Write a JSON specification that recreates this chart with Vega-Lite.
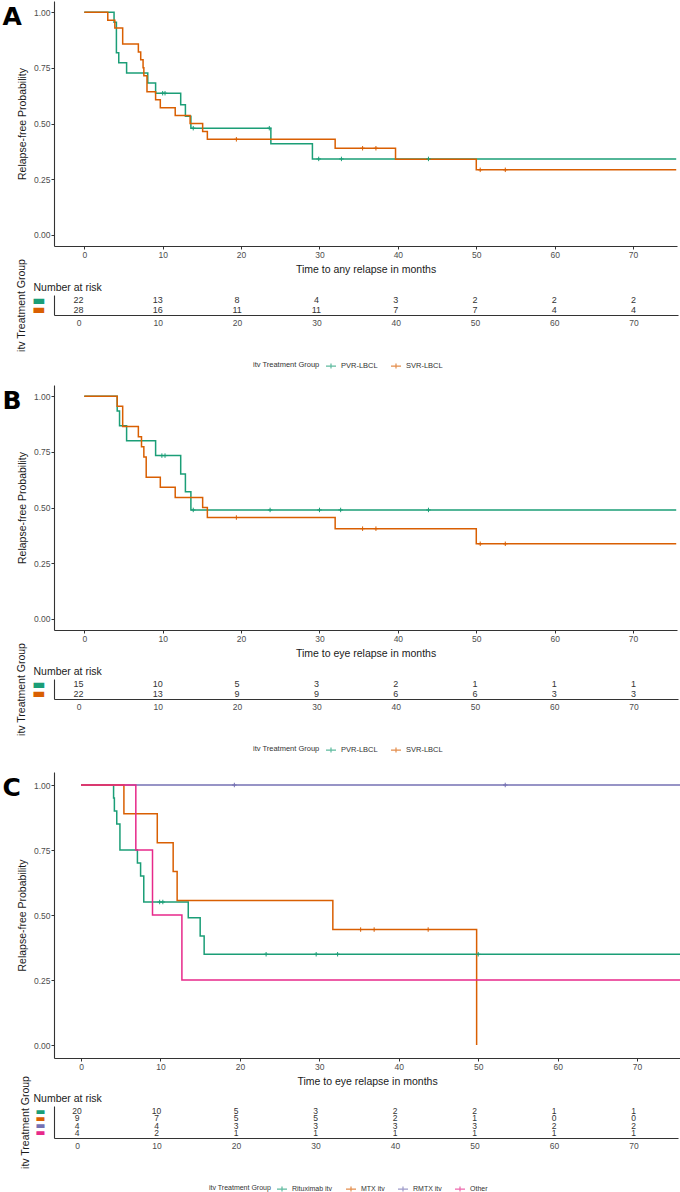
{
"$schema": "https://vega.github.io/schema/vega-lite/v6.json",
"background": "white",
"padding": {"left": 2, "top": 1, "right": 0, "bottom": 0},
"config": {
  "view": {"stroke": null},
  "font": "Liberation Sans",
  "axis": {"grid": false, "domainColor": "#333333", "domainWidth": 1.1, "tickColor": "#333333", "tickSize": 3, "labelColor": "#4d4d4d", "labelFontSize": 8.5, "labelFont": "Liberation Sans", "titleFont": "Liberation Sans", "titleFontSize": 10.5, "titleFontWeight": "normal", "titleColor": "#1a1a1a", "labelPadding": 1},
  "legend": {"layout": {"bottom": {"anchor": "middle"}}},
  "title": {"font": "Liberation Sans"}
},
"datasets": {
  "empty": [],
  "kmA": [
    {"g":"PVR-LBCL","t":0,"s":1},{"g":"PVR-LBCL","t":3.8,"s":0.955},{"g":"PVR-LBCL","t":4.1,"s":0.818},{"g":"PVR-LBCL","t":4.4,"s":0.773},{"g":"PVR-LBCL","t":5.4,"s":0.727},{"g":"PVR-LBCL","t":8.1,"s":0.682},{"g":"PVR-LBCL","t":9.1,"s":0.636},{"g":"PVR-LBCL","t":12.3,"s":0.584},{"g":"PVR-LBCL","t":12.9,"s":0.532},{"g":"PVR-LBCL","t":13.6,"s":0.479},{"g":"PVR-LBCL","t":23.8,"s":0.409},{"g":"PVR-LBCL","t":29.1,"s":0.341},{"g":"PVR-LBCL","t":75.5,"s":0.341},
    {"g":"SVR-LBCL","t":0,"s":1},{"g":"SVR-LBCL","t":3.0,"s":0.964},{"g":"SVR-LBCL","t":3.9,"s":0.929},{"g":"SVR-LBCL","t":4.9,"s":0.857},{"g":"SVR-LBCL","t":6.9,"s":0.821},{"g":"SVR-LBCL","t":7.2,"s":0.786},{"g":"SVR-LBCL","t":7.5,"s":0.75},{"g":"SVR-LBCL","t":7.6,"s":0.714},{"g":"SVR-LBCL","t":8.0,"s":0.643},{"g":"SVR-LBCL","t":9.1,"s":0.607},{"g":"SVR-LBCL","t":9.7,"s":0.571},{"g":"SVR-LBCL","t":11.6,"s":0.536},{"g":"SVR-LBCL","t":13.5,"s":0.5},{"g":"SVR-LBCL","t":15.1,"s":0.464},{"g":"SVR-LBCL","t":15.7,"s":0.429},{"g":"SVR-LBCL","t":32.0,"s":0.389},{"g":"SVR-LBCL","t":39.7,"s":0.34},{"g":"SVR-LBCL","t":50.0,"s":0.292},{"g":"SVR-LBCL","t":75.5,"s":0.292}
  ],
  "censA": [
    {"g":"PVR-LBCL","t":10.0,"s":0.636},{"g":"PVR-LBCL","t":10.3,"s":0.636},{"g":"PVR-LBCL","t":13.9,"s":0.479},{"g":"PVR-LBCL","t":23.6,"s":0.479},{"g":"PVR-LBCL","t":29.9,"s":0.341},{"g":"PVR-LBCL","t":32.8,"s":0.341},{"g":"PVR-LBCL","t":43.9,"s":0.341},
    {"g":"SVR-LBCL","t":19.4,"s":0.429},{"g":"SVR-LBCL","t":35.5,"s":0.389},{"g":"SVR-LBCL","t":37.2,"s":0.389},{"g":"SVR-LBCL","t":50.5,"s":0.292},{"g":"SVR-LBCL","t":53.7,"s":0.292}
  ],
  "riskA": [
    {"g":"PVR-LBCL","t":0,"n":22},{"g":"PVR-LBCL","t":10,"n":13},{"g":"PVR-LBCL","t":20,"n":8},{"g":"PVR-LBCL","t":30,"n":4},{"g":"PVR-LBCL","t":40,"n":3},{"g":"PVR-LBCL","t":50,"n":2},{"g":"PVR-LBCL","t":60,"n":2},{"g":"PVR-LBCL","t":70,"n":2},
    {"g":"SVR-LBCL","t":0,"n":28},{"g":"SVR-LBCL","t":10,"n":16},{"g":"SVR-LBCL","t":20,"n":11},{"g":"SVR-LBCL","t":30,"n":11},{"g":"SVR-LBCL","t":40,"n":7},{"g":"SVR-LBCL","t":50,"n":7},{"g":"SVR-LBCL","t":60,"n":4},{"g":"SVR-LBCL","t":70,"n":4}
  ],
  "kmB": [
    {"g":"PVR-LBCL","t":0,"s":1},{"g":"PVR-LBCL","t":4.2,"s":0.933},{"g":"PVR-LBCL","t":4.5,"s":0.867},{"g":"PVR-LBCL","t":5.4,"s":0.8},{"g":"PVR-LBCL","t":9.1,"s":0.733},{"g":"PVR-LBCL","t":12.3,"s":0.65},{"g":"PVR-LBCL","t":12.9,"s":0.571},{"g":"PVR-LBCL","t":13.6,"s":0.489},{"g":"PVR-LBCL","t":75.5,"s":0.489},
    {"g":"SVR-LBCL","t":0,"s":1},{"g":"SVR-LBCL","t":4.2,"s":0.955},{"g":"SVR-LBCL","t":4.9,"s":0.864},{"g":"SVR-LBCL","t":6.9,"s":0.818},{"g":"SVR-LBCL","t":7.3,"s":0.773},{"g":"SVR-LBCL","t":7.6,"s":0.727},{"g":"SVR-LBCL","t":7.9,"s":0.636},{"g":"SVR-LBCL","t":9.7,"s":0.591},{"g":"SVR-LBCL","t":11.6,"s":0.545},{"g":"SVR-LBCL","t":15.1,"s":0.5},{"g":"SVR-LBCL","t":15.7,"s":0.455},{"g":"SVR-LBCL","t":32.0,"s":0.405},{"g":"SVR-LBCL","t":50.0,"s":0.337},{"g":"SVR-LBCL","t":75.5,"s":0.337}
  ],
  "censB": [
    {"g":"PVR-LBCL","t":9.9,"s":0.733},{"g":"PVR-LBCL","t":10.3,"s":0.733},{"g":"PVR-LBCL","t":13.9,"s":0.489},{"g":"PVR-LBCL","t":23.7,"s":0.489},{"g":"PVR-LBCL","t":30.0,"s":0.489},{"g":"PVR-LBCL","t":32.7,"s":0.489},{"g":"PVR-LBCL","t":43.9,"s":0.489},
    {"g":"SVR-LBCL","t":19.4,"s":0.455},{"g":"SVR-LBCL","t":35.5,"s":0.405},{"g":"SVR-LBCL","t":37.2,"s":0.405},{"g":"SVR-LBCL","t":50.5,"s":0.337},{"g":"SVR-LBCL","t":53.7,"s":0.337}
  ],
  "riskB": [
    {"g":"PVR-LBCL","t":0,"n":15},{"g":"PVR-LBCL","t":10,"n":10},{"g":"PVR-LBCL","t":20,"n":5},{"g":"PVR-LBCL","t":30,"n":3},{"g":"PVR-LBCL","t":40,"n":2},{"g":"PVR-LBCL","t":50,"n":1},{"g":"PVR-LBCL","t":60,"n":1},{"g":"PVR-LBCL","t":70,"n":1},
    {"g":"SVR-LBCL","t":0,"n":22},{"g":"SVR-LBCL","t":10,"n":13},{"g":"SVR-LBCL","t":20,"n":9},{"g":"SVR-LBCL","t":30,"n":9},{"g":"SVR-LBCL","t":40,"n":6},{"g":"SVR-LBCL","t":50,"n":6},{"g":"SVR-LBCL","t":60,"n":3},{"g":"SVR-LBCL","t":70,"n":3}
  ],
  "kmC": [
    {"g":"RMTX itv","t":0,"s":1},{"g":"RMTX itv","t":75.5,"s":1},
    {"g":"Rituximab itv","t":0,"s":1},{"g":"Rituximab itv","t":4.1,"s":0.95},{"g":"Rituximab itv","t":4.2,"s":0.9},{"g":"Rituximab itv","t":4.5,"s":0.85},{"g":"Rituximab itv","t":4.9,"s":0.75},{"g":"Rituximab itv","t":7.1,"s":0.7},{"g":"Rituximab itv","t":7.5,"s":0.65},{"g":"Rituximab itv","t":7.9,"s":0.55},{"g":"Rituximab itv","t":13.5,"s":0.489},{"g":"Rituximab itv","t":15.0,"s":0.419},{"g":"Rituximab itv","t":15.5,"s":0.349},{"g":"Rituximab itv","t":75.5,"s":0.349},
    {"g":"MTX itv","t":0,"s":1},{"g":"MTX itv","t":5.4,"s":0.889},{"g":"MTX itv","t":9.6,"s":0.778},{"g":"MTX itv","t":11.6,"s":0.667},{"g":"MTX itv","t":12.1,"s":0.556},{"g":"MTX itv","t":31.7,"s":0.444},{"g":"MTX itv","t":49.8,"s":0.0},
    {"g":"Other","t":0,"s":1},{"g":"Other","t":6.9,"s":0.75},{"g":"Other","t":9.0,"s":0.5},{"g":"Other","t":12.7,"s":0.25},{"g":"Other","t":75.5,"s":0.25}
  ],
  "censC": [
    {"g":"Rituximab itv","t":9.9,"s":0.55},{"g":"Rituximab itv","t":10.3,"s":0.55},{"g":"Rituximab itv","t":23.3,"s":0.349},{"g":"Rituximab itv","t":29.6,"s":0.349},{"g":"Rituximab itv","t":32.3,"s":0.349},{"g":"Rituximab itv","t":50.0,"s":0.349},
    {"g":"MTX itv","t":35.2,"s":0.444},{"g":"MTX itv","t":36.9,"s":0.444},{"g":"MTX itv","t":43.7,"s":0.444},
    {"g":"RMTX itv","t":19.3,"s":1},{"g":"RMTX itv","t":53.4,"s":1}
  ],
  "riskC": [
    {"g":"Rituximab itv","t":0,"n":20},{"g":"Rituximab itv","t":10,"n":10},{"g":"Rituximab itv","t":20,"n":5},{"g":"Rituximab itv","t":30,"n":3},{"g":"Rituximab itv","t":40,"n":2},{"g":"Rituximab itv","t":50,"n":2},{"g":"Rituximab itv","t":60,"n":1},{"g":"Rituximab itv","t":70,"n":1},
    {"g":"MTX itv","t":0,"n":9},{"g":"MTX itv","t":10,"n":7},{"g":"MTX itv","t":20,"n":5},{"g":"MTX itv","t":30,"n":5},{"g":"MTX itv","t":40,"n":2},{"g":"MTX itv","t":50,"n":1},{"g":"MTX itv","t":60,"n":0},{"g":"MTX itv","t":70,"n":0},
    {"g":"RMTX itv","t":0,"n":4},{"g":"RMTX itv","t":10,"n":4},{"g":"RMTX itv","t":20,"n":3},{"g":"RMTX itv","t":30,"n":3},{"g":"RMTX itv","t":40,"n":3},{"g":"RMTX itv","t":50,"n":3},{"g":"RMTX itv","t":60,"n":2},{"g":"RMTX itv","t":70,"n":2},
    {"g":"Other","t":0,"n":4},{"g":"Other","t":10,"n":2},{"g":"Other","t":20,"n":1},{"g":"Other","t":30,"n":1},{"g":"Other","t":40,"n":1},{"g":"Other","t":50,"n":1},{"g":"Other","t":60,"n":1},{"g":"Other","t":70,"n":1}
  ]
},
"vconcat": [
   {
    "width": 623, "height": 245,
    "resolve": {"axis": {"x": "independent"}},
    "layer": [
     {"data": {"name": "kmA"}, "mark": {"type": "line", "interpolate": "step-after", "strokeWidth": 1.5, "clip": true},
      "encoding": {
       "x": {"field": "t", "type": "quantitative", "scale": {"domain": [-3.86, 75.6], "nice": false, "zero": false}, "axis": {"values": [0,10,20,30,40,50,60,70], "title": "Time to any relapse in months", "titlePadding": 6}},
       "y": {"field": "s", "type": "quantitative", "scale": {"domain": [-0.05, 1.05], "nice": false, "zero": false}, "axis": {"values": [0,0.25,0.5,0.75,1], "format": ".2f", "title": "Relapse-free Probability", "titlePadding": 6}},
       "color": {"field": "g", "type": "nominal", "scale": {"domain": ["PVR-LBCL","SVR-LBCL"], "range": ["#1b9e77","#d95f02"]}, "legend": null}
      }},
     {"data": {"name": "censA"}, "mark": {"type": "point", "shape": "M-1,0L1,0M0,-1L0,1", "size": 20, "strokeWidth": 1, "filled": false, "opacity": 1, "clip": true},
      "encoding": {
       "x": {"field": "t", "type": "quantitative", "axis": {"orient": "top", "domain": false, "ticks": false, "labels": false, "title": "A", "titleX": -52, "titleY": 23, "titleAlign": "left", "titleBaseline": "alphabetic", "titleAngle": 0, "titleFont": "DejaVu Sans", "titleFontSize": 25, "titleFontWeight": "bold", "titleColor": "#000000"}},
       "y": {"field": "s", "type": "quantitative"},
       "color": {"field": "g", "type": "nominal", "legend": null}}}
    ]
   },
   {"width": 10, "height": 49, "data": {"name": "empty"}, "mark": "point"},
   {
    "width": 624, "height": 20,
    "resolve": {"axis": {"x": "independent"}},
    "layer": [
     {"data": {"name": "riskA"}, "mark": {"type": "text", "fontSize": 9, "color": "#333333", "baseline": "middle"},
      "encoding": {
       "x": {"field": "t", "type": "quantitative", "scale": {"domain": [-3.09, 75.6], "nice": false, "zero": false}, "axis": {"values": [0,10,20,30,40,50,60,70], "title": null, "ticks": false, "tickSize": 0, "labelPadding": 3}},
       "y": {"field": "g", "type": "nominal", "sort": ["PVR-LBCL","SVR-LBCL"], "scale": {"type": "point", "padding": 0.61}, "axis": {"title": "itv Treatment Group", "labelExpr": "'▬'", "labelFont": "DejaVu Sans", "labelFontSize": 14, "ticks": false, "tickSize": 0, "labelPadding": 9, "titlePadding": 5, "labelColor": {"condition": [{"test": "datum.value === 'PVR-LBCL'", "value": "#1b9e77"}], "value": "#d95f02"}}},
       "text": {"field": "n", "type": "quantitative"}
      }},
     {"data": {"name": "riskA"}, "transform": [{"filter": "false"}], "mark": {"type": "point"},
      "encoding": {
       "x": {"field": "t", "type": "quantitative", "axis": {"orient": "top", "domain": false, "ticks": false, "labels": false, "title": "Number at risk", "titleX": -21, "titleY": -5, "titleAlign": "left", "titleBaseline": "alphabetic", "titleAngle": 0, "titleFontSize": 10.5, "titleColor": "#1a1a1a"}},
       "y": {"field": "g", "type": "nominal", "sort": ["PVR-LBCL","SVR-LBCL"]}
      }}
    ]
   },
   {"width": 588, "height": 40, "data": {"name": "empty"}, "mark": {"type": "point", "filled": false},
    "encoding": {"color": {"field": "g", "type": "nominal", "scale": {"domain": ["PVR-LBCL","SVR-LBCL"], "range": ["#1b9e77","#d95f02"]}, "legend": {"orient": "bottom", "direction": "horizontal", "title": "itv Treatment Group", "titleOrient": "left", "titleFontSize": 7.5, "titleFontWeight": "normal", "titleColor": "#333333", "labelFontSize": 7.5, "labelColor": "#333333", "symbolType": "M-1,0L1,0M0,-0.5L0,0.5", "symbolSize": 100, "symbolStrokeWidth": 1.2, "offset": 5, "columnPadding": 10, "labelOffset": 4, "titlePadding": 5}}}},
   {"width": 10, "height": 30, "data": {"name": "empty"}, "mark": "point"},
   {
    "width": 623, "height": 245,
    "resolve": {"axis": {"x": "independent"}},
    "layer": [
     {"data": {"name": "kmB"}, "mark": {"type": "line", "interpolate": "step-after", "strokeWidth": 1.5, "clip": true},
      "encoding": {
       "x": {"field": "t", "type": "quantitative", "scale": {"domain": [-3.86, 75.6], "nice": false, "zero": false}, "axis": {"values": [0,10,20,30,40,50,60,70], "title": "Time to eye relapse in months", "titlePadding": 6}},
       "y": {"field": "s", "type": "quantitative", "scale": {"domain": [-0.05, 1.05], "nice": false, "zero": false}, "axis": {"values": [0,0.25,0.5,0.75,1], "format": ".2f", "title": "Relapse-free Probability", "titlePadding": 6}},
       "color": {"field": "g", "type": "nominal", "scale": {"domain": ["PVR-LBCL","SVR-LBCL"], "range": ["#1b9e77","#d95f02"]}, "legend": null}
      }},
     {"data": {"name": "censB"}, "mark": {"type": "point", "shape": "M-1,0L1,0M0,-1L0,1", "size": 20, "strokeWidth": 1, "filled": false, "opacity": 1, "clip": true},
      "encoding": {
       "x": {"field": "t", "type": "quantitative", "axis": {"orient": "top", "domain": false, "ticks": false, "labels": false, "title": "B", "titleX": -52, "titleY": 23, "titleAlign": "left", "titleBaseline": "alphabetic", "titleAngle": 0, "titleFont": "DejaVu Sans", "titleFontSize": 25, "titleFontWeight": "bold", "titleColor": "#000000"}},
       "y": {"field": "s", "type": "quantitative"},
       "color": {"field": "g", "type": "nominal", "legend": null}}}
    ]
   },
   {"width": 10, "height": 49, "data": {"name": "empty"}, "mark": "point"},
   {
    "width": 624, "height": 20,
    "resolve": {"axis": {"x": "independent"}},
    "layer": [
     {"data": {"name": "riskB"}, "mark": {"type": "text", "fontSize": 9, "color": "#333333", "baseline": "middle"},
      "encoding": {
       "x": {"field": "t", "type": "quantitative", "scale": {"domain": [-3.09, 75.6], "nice": false, "zero": false}, "axis": {"values": [0,10,20,30,40,50,60,70], "title": null, "ticks": false, "tickSize": 0, "labelPadding": 3}},
       "y": {"field": "g", "type": "nominal", "sort": ["PVR-LBCL","SVR-LBCL"], "scale": {"type": "point", "padding": 0.61}, "axis": {"title": "itv Treatment Group", "labelExpr": "'▬'", "labelFont": "DejaVu Sans", "labelFontSize": 14, "ticks": false, "tickSize": 0, "labelPadding": 9, "titlePadding": 5, "labelColor": {"condition": [{"test": "datum.value === 'PVR-LBCL'", "value": "#1b9e77"}], "value": "#d95f02"}}},
       "text": {"field": "n", "type": "quantitative"}
      }},
     {"data": {"name": "riskB"}, "transform": [{"filter": "false"}], "mark": {"type": "point"},
      "encoding": {
       "x": {"field": "t", "type": "quantitative", "axis": {"orient": "top", "domain": false, "ticks": false, "labels": false, "title": "Number at risk", "titleX": -21, "titleY": -5, "titleAlign": "left", "titleBaseline": "alphabetic", "titleAngle": 0, "titleFontSize": 10.5, "titleColor": "#1a1a1a"}},
       "y": {"field": "g", "type": "nominal", "sort": ["PVR-LBCL","SVR-LBCL"]}
      }}
    ]
   },
   {"width": 588, "height": 40, "data": {"name": "empty"}, "mark": {"type": "point", "filled": false},
    "encoding": {"color": {"field": "g", "type": "nominal", "scale": {"domain": ["PVR-LBCL","SVR-LBCL"], "range": ["#1b9e77","#d95f02"]}, "legend": {"orient": "bottom", "direction": "horizontal", "title": "itv Treatment Group", "titleOrient": "left", "titleFontSize": 7.5, "titleFontWeight": "normal", "titleColor": "#333333", "labelFontSize": 7.5, "labelColor": "#333333", "symbolType": "M-1,0L1,0M0,-0.5L0,0.5", "symbolSize": 100, "symbolStrokeWidth": 1.2, "offset": 5, "columnPadding": 10, "labelOffset": 4, "titlePadding": 5}}}},
   {"width": 10, "height": 33, "data": {"name": "empty"}, "mark": "point"},
   {
    "width": 626, "height": 286,
    "resolve": {"axis": {"x": "independent"}},
    "layer": [
     {"data": {"name": "kmC"}, "mark": {"type": "line", "interpolate": "step-after", "strokeWidth": 1.5, "clip": true},
      "encoding": {
       "x": {"field": "t", "type": "quantitative", "scale": {"domain": [-3.4, 75.4], "nice": false, "zero": false}, "axis": {"values": [0,10,20,30,40,50,60,70], "title": "Time to eye relapse in months", "titlePadding": 6}},
       "y": {"field": "s", "type": "quantitative", "scale": {"domain": [-0.05, 1.05], "nice": false, "zero": false}, "axis": {"values": [0,0.25,0.5,0.75,1], "format": ".2f", "title": "Relapse-free Probability", "titlePadding": 6}},
       "color": {"field": "g", "type": "nominal", "scale": {"domain": ["Rituximab itv","MTX itv","RMTX itv","Other"], "range": ["#1b9e77","#d95f02","#7570b3","#e7298a"]}, "legend": null}
      }},
     {"data": {"name": "censC"}, "mark": {"type": "point", "shape": "M-1,0L1,0M0,-1L0,1", "size": 20, "strokeWidth": 1, "filled": false, "opacity": 1, "clip": true},
      "encoding": {
       "x": {"field": "t", "type": "quantitative", "axis": {"orient": "top", "domain": false, "ticks": false, "labels": false, "title": "C", "titleX": -52, "titleY": 23, "titleAlign": "left", "titleBaseline": "alphabetic", "titleAngle": 0, "titleFont": "DejaVu Sans", "titleFontSize": 25, "titleFontWeight": "bold", "titleColor": "#000000"}},
       "y": {"field": "s", "type": "quantitative"},
       "color": {"field": "g", "type": "nominal", "legend": null}}}
    ]
   },
   {"width": 10, "height": 48, "data": {"name": "empty"}, "mark": "point"},
   {
    "width": 624, "height": 32,
    "resolve": {"axis": {"x": "independent"}},
    "layer": [
     {"data": {"name": "riskC"}, "mark": {"type": "text", "fontSize": 8.5, "color": "#333333", "baseline": "middle"},
      "encoding": {
       "x": {"field": "t", "type": "quantitative", "scale": {"domain": [-2.9, 75.6], "nice": false, "zero": false}, "axis": {"values": [0,10,20,30,40,50,60,70], "title": null, "ticks": false, "tickSize": 0, "labelPadding": 3}},
       "y": {"field": "g", "type": "nominal", "sort": ["Rituximab itv","MTX itv","RMTX itv","Other"], "scale": {"type": "point", "padding": 0.7}, "axis": {"title": "itv Treatment Group", "labelExpr": "'▬'", "labelFont": "DejaVu Sans", "labelFontSize": 10.5, "ticks": false, "tickSize": 0, "labelPadding": 9, "titlePadding": 5, "labelColor": {"condition": [{"test": "datum.value === 'Rituximab itv'", "value": "#1b9e77"}, {"test": "datum.value === 'MTX itv'", "value": "#d95f02"}, {"test": "datum.value === 'RMTX itv'", "value": "#7570b3"}], "value": "#e7298a"}}},
       "text": {"field": "n", "type": "quantitative"}
      }},
     {"data": {"name": "riskC"}, "transform": [{"filter": "false"}], "mark": {"type": "point"},
      "encoding": {
       "x": {"field": "t", "type": "quantitative", "axis": {"orient": "top", "domain": false, "ticks": false, "labels": false, "title": "Number at risk", "titleX": -21, "titleY": -5, "titleAlign": "left", "titleBaseline": "alphabetic", "titleAngle": 0, "titleFontSize": 10.5, "titleColor": "#1a1a1a"}},
       "y": {"field": "g", "type": "nominal", "sort": ["Rituximab itv","MTX itv","RMTX itv","Other"]}
      }}
    ]
   },
   {"width": 588, "height": 40, "data": {"name": "empty"}, "mark": {"type": "point", "filled": false},
    "encoding": {"color": {"field": "g", "type": "nominal", "scale": {"domain": ["Rituximab itv","MTX itv","RMTX itv","Other"], "range": ["#1b9e77","#d95f02","#7570b3","#e7298a"]}, "legend": {"orient": "bottom", "direction": "horizontal", "title": "itv Treatment Group", "titleOrient": "left", "titleFontSize": 7, "titleFontWeight": "normal", "titleColor": "#333333", "labelFontSize": 7, "labelColor": "#333333", "symbolType": "M-1,0L1,0M0,-0.5L0,0.5", "symbolSize": 100, "symbolStrokeWidth": 1.2, "offset": 5, "columnPadding": 10, "labelOffset": 4, "titlePadding": 5}}}}
],
"spacing": 0,
"bounds": "flush",
"resolve": {"scale": {"color": "independent"}, "legend": {"color": "independent"}}
}
